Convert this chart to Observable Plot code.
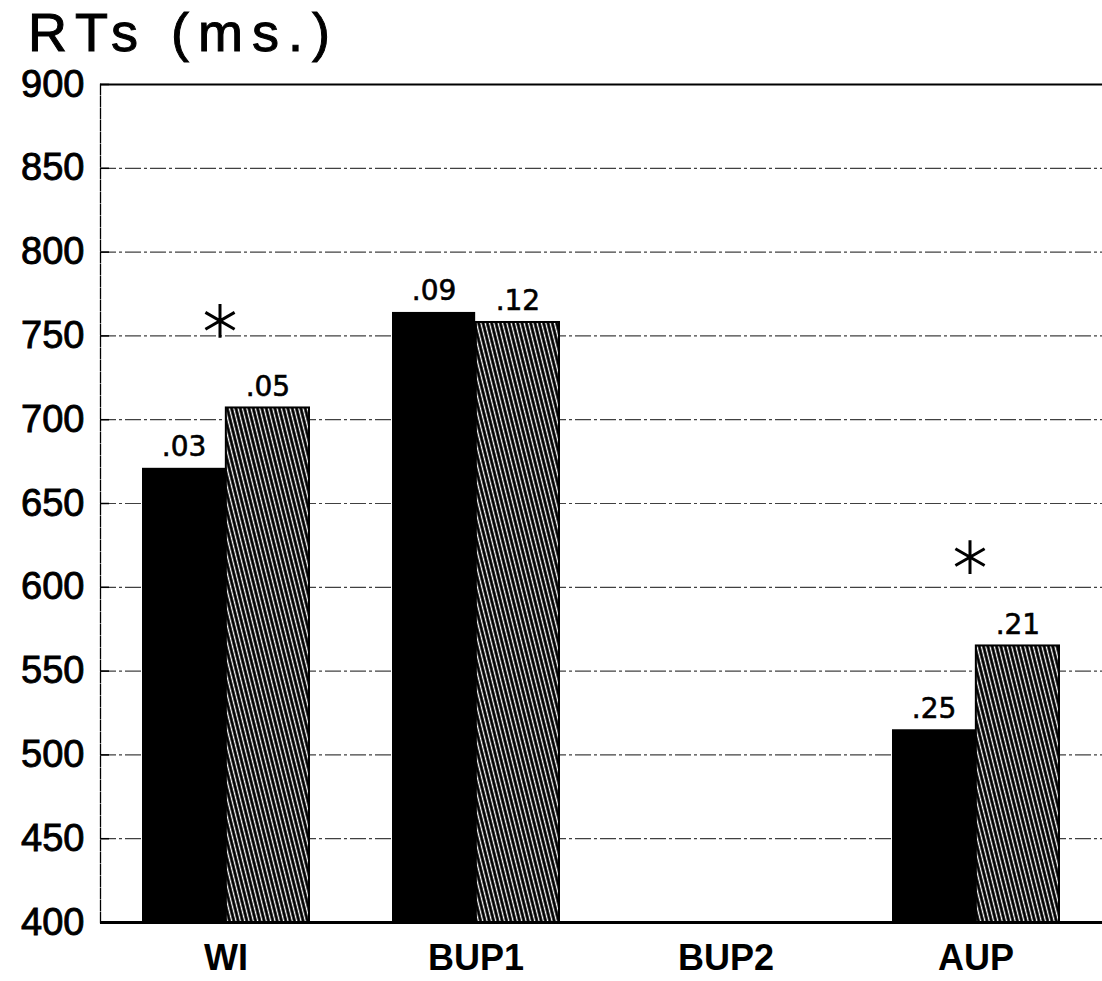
<!DOCTYPE html>
<html>
<head>
<meta charset="utf-8">
<script src="https://cdn.jsdelivr.net/npm/d3@7"></script>
<script src="https://cdn.jsdelivr.net/npm/@observablehq/plot@0.6"></script>
<style>
  html, body { margin: 0; padding: 0; background: #fff; }
  #wrap { width: 1102px; height: 981px; position: relative; overflow: hidden; }
  #title { position: absolute; left: 28px; top: 1px; height: 63px; font-family: "Liberation Sans", Arial, sans-serif; font-size: 54px; line-height: 63px; color: #000; letter-spacing: 9px; white-space: nowrap; -webkit-text-stroke: 1px #000; }
  #chart { position: absolute; left: 0; top: 70px; }
  #chart g[aria-label="y-axis tick label"] text { stroke: #000; stroke-width: 0.9px; }
  #chart g.bar-label text { stroke: #000; stroke-width: 0.6px; }
</style>
</head>
<body>
<div id="wrap">
  <div id="title">RTs (ms.)</div>
  <div id="chart"></div>
</div>
<script>
// ---- data ----
const categories = ["WI", "BUP1", "BUP2", "AUP"];
const blackValues = [671, 764, null, 515];
const hatchedValues = [707, 758, null, 565];
const blackLabels = [".03", ".09", null, ".25"];
const hatchedLabels = [".05", ".12", null, ".21"];
const starCategories = ["WI", "AUP"];
const starValues = [759, 618];
const yTicks = [400, 450, 500, 550, 600, 650, 700, 750, 800, 850, 900];

// ---- build rows ----
const blackRows = categories.map((c, i) => ({cat: c, v: blackValues[i], label: blackLabels[i]})).filter(d => d.v != null);
const hatchedRows = categories.map((c, i) => ({cat: c, v: hatchedValues[i], label: hatchedLabels[i]})).filter(d => d.v != null);
const starRows = starCategories.map((c, i) => ({cat: c, v: starValues[i]}));

const W = 1102, H = 911;
const mL = 100, mR = 0, mT = 14, mB = 59;
const pInner = 0.33, pOuter = 0.167;
const step = (W - mL - mR) / (categories.length - pInner + 2 * pOuter);
const half = step * (1 - pInner) / 2;

const font = "'Liberation Sans', Arial, sans-serif";

const plot = Plot.plot({
  width: W,
  height: H,
  marginLeft: mL,
  marginRight: mR,
  marginTop: mT,
  marginBottom: mB,
  style: {fontFamily: font, background: "white", color: "black", overflow: "visible"},
  x: {domain: categories, paddingInner: pInner, paddingOuter: pOuter, align: 0.5, label: null},
  y: {domain: [400, 900], label: null},
  marks: [
    Plot.gridY(yTicks, {stroke: "#000", strokeOpacity: 0.75, strokeWidth: 1.2, strokeDasharray: "16,3,3,3"}),
    Plot.barY(blackRows, {x: "cat", y1: 400, y2: "v", fill: "#000", insetRight: half, insetLeft: 0}),
    Plot.barY(hatchedRows, {x: "cat", y1: 400, y2: "v", fill: "url(#hatch)", stroke: "#000", strokeWidth: 2, insetLeft: half, insetRight: 0}),
    Plot.text(blackRows, {x: "cat", y: "v", text: "label", dx: -half / 2, dy: -12, lineAnchor: "bottom", fontSize: 28, fill: "#000", fontFamily: "'DejaVu Sans', sans-serif", className: "bar-label"}),
    Plot.text(hatchedRows, {x: "cat", y: "v", text: "label", dx: half / 2, dy: -12, lineAnchor: "bottom", fontSize: 28, fill: "#000", fontFamily: "'DejaVu Sans', sans-serif", className: "bar-label"}),
    Plot.dot(starRows, {x: "cat", y: "v", symbol: "asterisk", r: 16, stroke: "#000", strokeWidth: 3, dx: -6}),
    Plot.ruleY([900], {stroke: "#000", strokeWidth: 2}),
    Plot.ruleY([400], {stroke: "#000", strokeWidth: 3}),
    Plot.axisY(yTicks, {tickSize: 0, tickPadding: 16, fontSize: 38, letterSpacing: 3, tickFormat: d => String(d)}),
    Plot.axisY(yTicks, {tickSize: -9, tickFormat: () => "", strokeWidth: 1.5}),
    Plot.axisX({tickSize: 0, tickPadding: 22, fontSize: 36, fontWeight: "bold", lineAnchor: "top"}),
    Plot.frame({anchor: "left", stroke: "#000", strokeWidth: 1.3, strokeDasharray: "10,2"})
  ]
});

// hatch pattern defs
const ns = "http://www.w3.org/2000/svg";
const defs = document.createElementNS(ns, "defs");
const pat = document.createElementNS(ns, "pattern");
pat.setAttribute("id", "hatch");
pat.setAttribute("patternUnits", "userSpaceOnUse");
pat.setAttribute("width", "4.2");
pat.setAttribute("height", "20");
pat.setAttribute("patternTransform", "rotate(-14)");
const bg = document.createElementNS(ns, "rect");
bg.setAttribute("width", "4.2"); bg.setAttribute("height", "20"); bg.setAttribute("fill", "#000");
const ln = document.createElementNS(ns, "rect");
ln.setAttribute("x", "1.5"); ln.setAttribute("width", "1.3"); ln.setAttribute("height", "20"); ln.setAttribute("fill", "#fff");
pat.appendChild(bg); pat.appendChild(ln); defs.appendChild(pat);
plot.insertBefore(defs, plot.firstChild);

document.getElementById("chart").appendChild(plot);
</script>
</body>
</html>
